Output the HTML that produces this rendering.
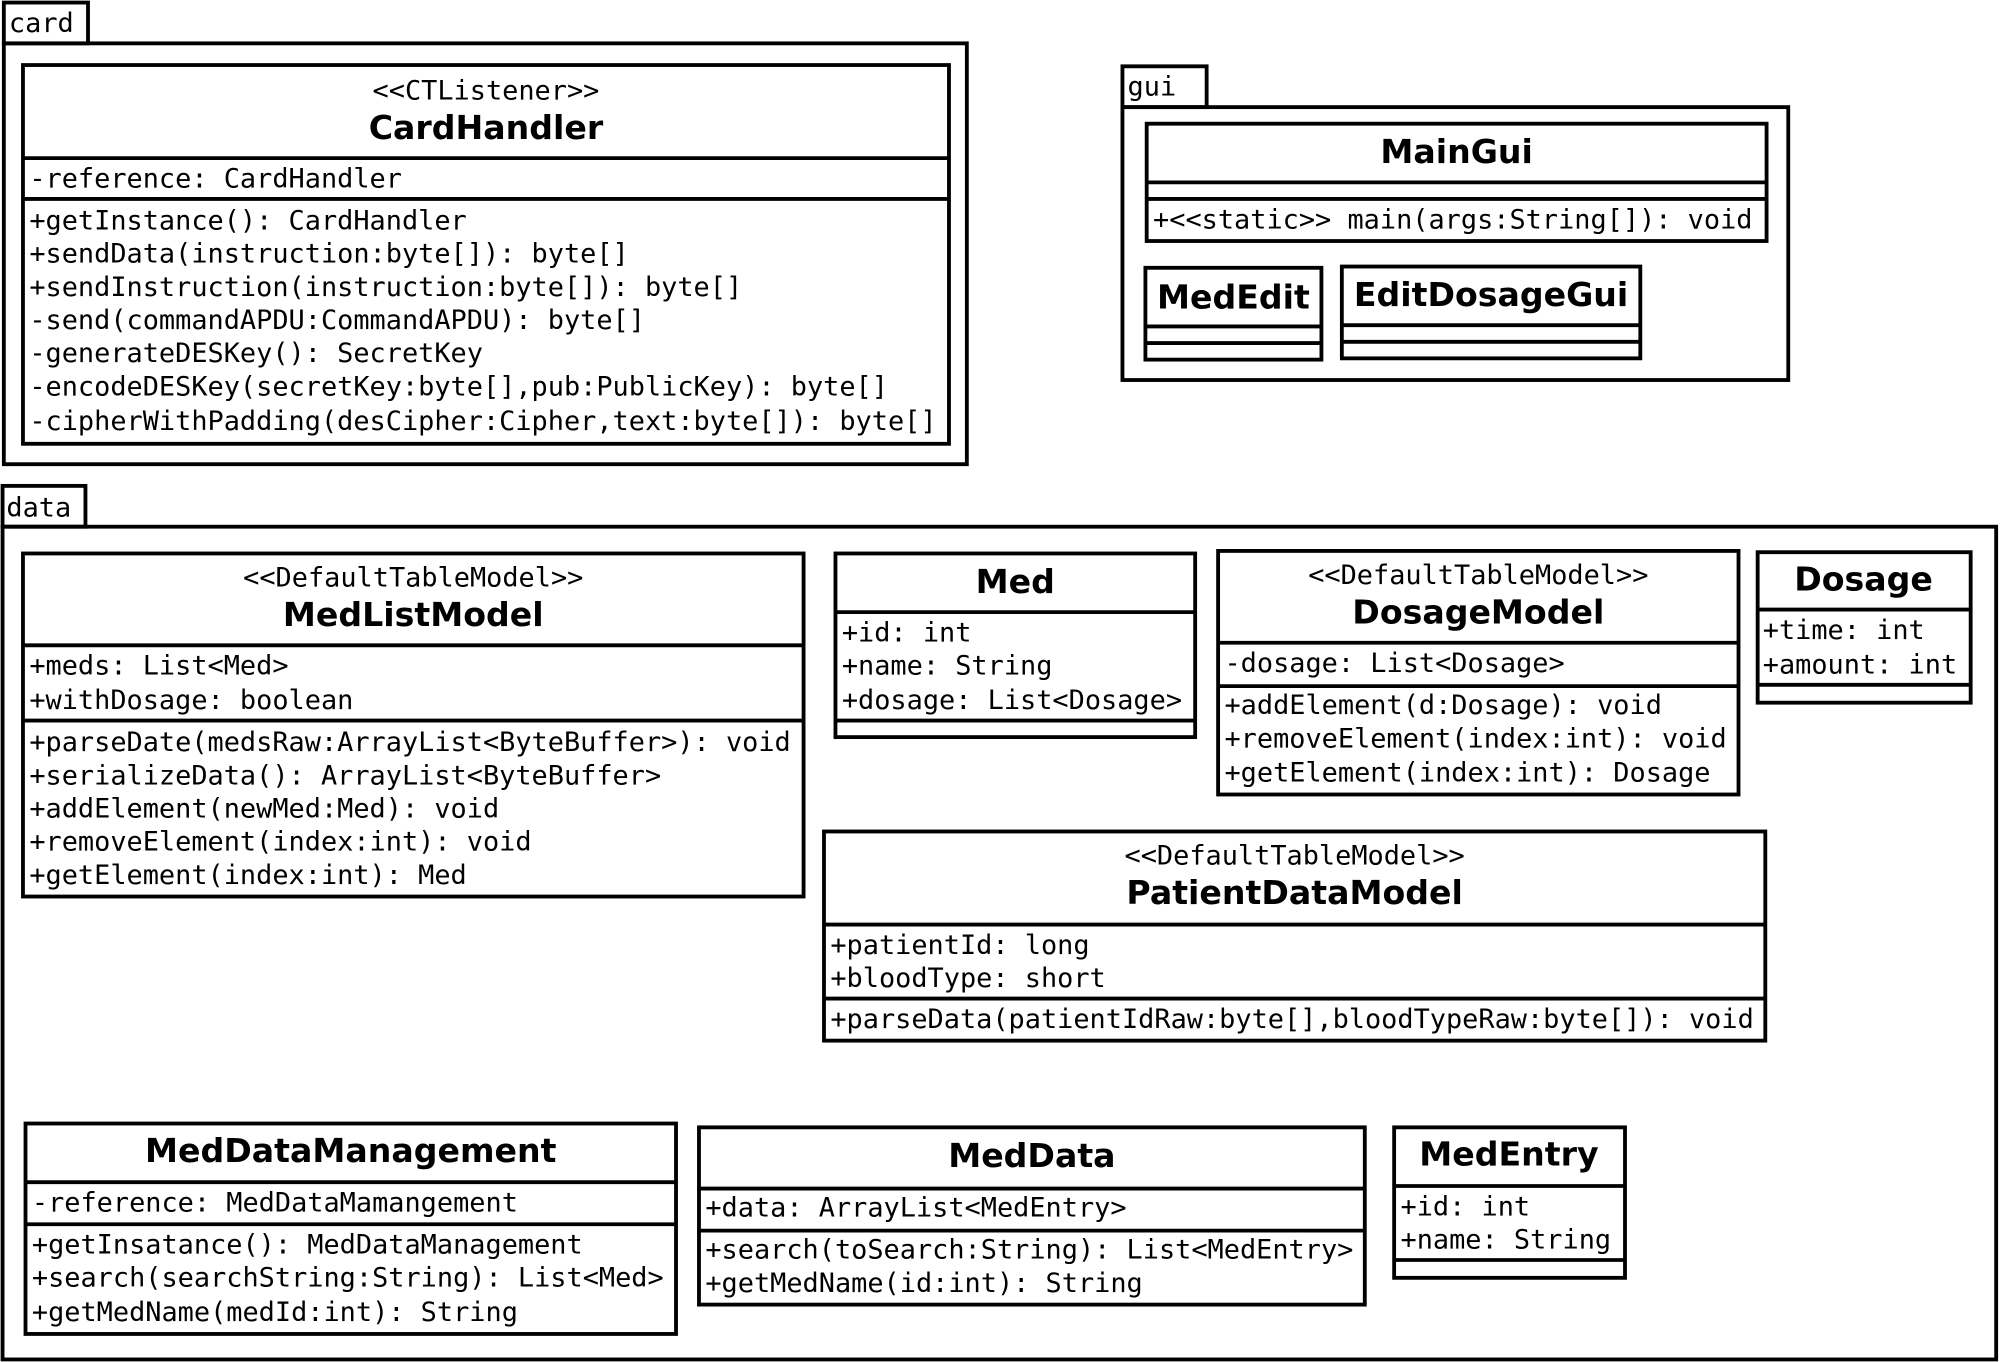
<!DOCTYPE html>
<html><head><meta charset="utf-8"><style>
html,body{margin:0;padding:0;background:#fff;}
svg{display:block;}
.m{font-family:"DejaVu Sans Mono","Liberation Mono",monospace;font-size:21.1px;fill:#000;}
.t{font-family:"DejaVu Sans","Liberation Sans",sans-serif;font-weight:bold;font-size:26px;fill:#000;}
rect,line{fill:none;stroke:#000;stroke-width:3;}
</style></head><body>
<svg width="2000" height="1362" viewBox="0 0 1568 1068" preserveAspectRatio="none" xmlns="http://www.w3.org/2000/svg">
<rect x="0" y="0" width="1568" height="1068" style="fill:#fff;stroke:none"/>
<!-- card package -->
<rect x="3" y="2" width="66" height="32"/>
<rect x="3" y="34" width="755" height="330"/>
<text class="m" x="7" y="25">card</text>
<rect x="18" y="51" width="726" height="297"/>
<line x1="18" y1="124" x2="744" y2="124"/><line x1="18" y1="156" x2="744" y2="156"/>
<text class="m" x="381" y="78" text-anchor="middle">&lt;&lt;CTListener&gt;&gt;</text>
<text class="t" x="381" y="109" text-anchor="middle">CardHandler</text>
<text class="m" x="23" y="147">-reference: CardHandler</text>
<text class="m" x="23" y="180">+getInstance(): CardHandler</text>
<text class="m" x="23" y="206">+sendData(instruction:byte[]): byte[]</text>
<text class="m" x="23" y="232">+sendInstruction(instruction:byte[]): byte[]</text>
<text class="m" x="23" y="258">-send(commandAPDU:CommandAPDU): byte[]</text>
<text class="m" x="23" y="284">-generateDESKey(): SecretKey</text>
<text class="m" x="23" y="310">-encodeDESKey(secretKey:byte[],pub:PublicKey): byte[]</text>
<text class="m" x="23" y="337">-cipherWithPadding(desCipher:Cipher,text:byte[]): byte[]</text>
<!-- gui package -->
<rect x="880" y="52" width="66" height="32"/>
<rect x="880" y="84" width="522" height="214"/>
<text class="m" x="884" y="75">gui</text>
<rect x="899" y="97" width="486" height="92"/>
<line x1="899" y1="143" x2="1385" y2="143"/><line x1="899" y1="156" x2="1385" y2="156"/>
<text class="t" x="1142" y="128" text-anchor="middle">MainGui</text>
<text class="m" x="904" y="179">+&lt;&lt;static&gt;&gt; main(args:String[]): void</text>
<rect x="898" y="210" width="138" height="72"/>
<line x1="898" y1="256" x2="1036" y2="256"/><line x1="898" y1="269" x2="1036" y2="269"/>
<text class="t" x="967" y="242" text-anchor="middle">MedEdit</text>
<rect x="1052" y="209" width="234" height="72"/>
<line x1="1052" y1="255" x2="1286" y2="255"/><line x1="1052" y1="268" x2="1286" y2="268"/>
<text class="t" x="1169" y="240" text-anchor="middle">EditDosageGui</text>
<!-- data package -->
<rect x="2" y="381" width="65" height="32"/>
<rect x="2" y="413" width="1563" height="653"/>
<text class="m" x="5" y="405">data</text>
<!-- MedListModel -->
<rect x="18" y="434" width="612" height="269"/>
<line x1="18" y1="506" x2="630" y2="506"/><line x1="18" y1="565" x2="630" y2="565"/>
<text class="m" x="324" y="460" text-anchor="middle">&lt;&lt;DefaultTableModel&gt;&gt;</text>
<text class="t" x="324" y="491" text-anchor="middle">MedListModel</text>
<text class="m" x="23" y="529">+meds: List&lt;Med&gt;</text>
<text class="m" x="23" y="556">+withDosage: boolean</text>
<text class="m" x="23" y="589">+parseDate(medsRaw:ArrayList&lt;ByteBuffer&gt;): void</text>
<text class="m" x="23" y="615">+serializeData(): ArrayList&lt;ByteBuffer&gt;</text>
<text class="m" x="23" y="641">+addElement(newMed:Med): void</text>
<text class="m" x="23" y="667">+removeElement(index:int): void</text>
<text class="m" x="23" y="693">+getElement(index:int): Med</text>
<!-- Med -->
<rect x="655" y="434" width="282" height="144"/>
<line x1="655" y1="480" x2="937" y2="480"/><line x1="655" y1="565" x2="937" y2="565"/>
<text class="t" x="796" y="465" text-anchor="middle">Med</text>
<text class="m" x="660" y="503">+id: int</text>
<text class="m" x="660" y="529">+name: String</text>
<text class="m" x="660" y="556">+dosage: List&lt;Dosage&gt;</text>
<!-- DosageModel -->
<rect x="955" y="432" width="408" height="191"/>
<line x1="955" y1="504" x2="1363" y2="504"/><line x1="955" y1="538" x2="1363" y2="538"/>
<text class="m" x="1159" y="458" text-anchor="middle">&lt;&lt;DefaultTableModel&gt;&gt;</text>
<text class="t" x="1159" y="489" text-anchor="middle">DosageModel</text>
<text class="m" x="960" y="527">-dosage: List&lt;Dosage&gt;</text>
<text class="m" x="960" y="560">+addElement(d:Dosage): void</text>
<text class="m" x="960" y="586">+removeElement(index:int): void</text>
<text class="m" x="960" y="613">+getElement(index:int): Dosage</text>
<!-- Dosage -->
<rect x="1378" y="433" width="167" height="118"/>
<line x1="1378" y1="478" x2="1545" y2="478"/><line x1="1378" y1="537" x2="1545" y2="537"/>
<text class="t" x="1461" y="463" text-anchor="middle">Dosage</text>
<text class="m" x="1382" y="501">+time: int</text>
<text class="m" x="1382" y="528">+amount: int</text>
<!-- PatientDataModel -->
<rect x="646" y="652" width="738" height="164"/>
<line x1="646" y1="725" x2="1384" y2="725"/><line x1="646" y1="783" x2="1384" y2="783"/>
<text class="m" x="1015" y="678" text-anchor="middle">&lt;&lt;DefaultTableModel&gt;&gt;</text>
<text class="t" x="1015" y="709" text-anchor="middle">PatientDataModel</text>
<text class="m" x="651" y="748">+patientId: long</text>
<text class="m" x="651" y="774">+bloodType: short</text>
<text class="m" x="651" y="806">+parseData(patientIdRaw:byte[],bloodTypeRaw:byte[]): void</text>
<!-- MedDataManagement -->
<rect x="20" y="881" width="510" height="165"/>
<line x1="20" y1="927" x2="530" y2="927"/><line x1="20" y1="960" x2="530" y2="960"/>
<text class="t" x="275" y="911" text-anchor="middle">MedDataManagement</text>
<text class="m" x="25" y="950">-reference: MedDataMamangement</text>
<text class="m" x="25" y="983">+getInsatance(): MedDataManagement</text>
<text class="m" x="25" y="1009">+search(searchString:String): List&lt;Med&gt;</text>
<text class="m" x="25" y="1036">+getMedName(medId:int): String</text>
<!-- MedData -->
<rect x="548" y="884" width="522" height="139"/>
<line x1="548" y1="932" x2="1070" y2="932"/><line x1="548" y1="965" x2="1070" y2="965"/>
<text class="t" x="809" y="915" text-anchor="middle">MedData</text>
<text class="m" x="553" y="954">+data: ArrayList&lt;MedEntry&gt;</text>
<text class="m" x="553" y="987">+search(toSearch:String): List&lt;MedEntry&gt;</text>
<text class="m" x="553" y="1013">+getMedName(id:int): String</text>
<!-- MedEntry -->
<rect x="1093" y="884" width="181" height="118"/>
<line x1="1093" y1="930" x2="1274" y2="930"/><line x1="1093" y1="988" x2="1274" y2="988"/>
<text class="t" x="1183" y="914" text-anchor="middle">MedEntry</text>
<text class="m" x="1098" y="953">+id: int</text>
<text class="m" x="1098" y="979">+name: String</text>
</svg>
</body></html>
